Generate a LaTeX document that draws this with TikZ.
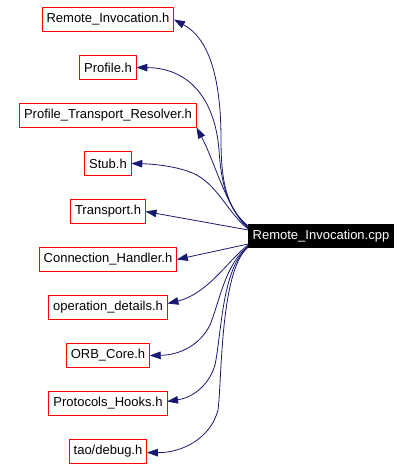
\documentclass[tikz,border=0pt]{standalone}
\usepackage{fontspec}
\setsansfont{Liberation Sans}
\usetikzlibrary{positioning,arrows.meta}

\definecolor{edgeblue}{RGB}{25,25,112}

\begin{document}
\begin{tikzpicture}[
  x=1pt, y=-1pt,
  font=\sffamily\fontsize{13}{15}\selectfont,
  hdr/.style={draw=red, line width=1pt, minimum height=24pt, inner xsep=4.5pt,
              inner ysep=0pt, outer sep=0pt},
  src/.style={fill=black, text=white, minimum height=24pt, inner xsep=4.5pt,
              inner ysep=0pt, outer sep=0pt},
  arr/.style={-{Triangle[length=11pt, width=7.5pt]}, edgeblue, line width=0.8pt},
  node distance=24pt]

\useasboundingbox (0,0) rectangle (411,470);

% ---- included headers, one column ----
\node[hdr] (rih) at (108,19.5) {Remote\_Invocation.h};
\node[hdr, below=of rih] (profile) {Profile.h};
\node[hdr, below=of profile] (ptr) {Profile\_Transport\_Resolver.h};
\node[hdr, below=of ptr] (stub) {Stub.h};
\node[hdr, below=of stub] (transport) {Transport.h};
\node[hdr, below=of transport] (conn) {Connection\_Handler.h};
\node[hdr, below=of conn] (opdet) {operation\_details.h};
\node[hdr, below=of opdet] (orb) {ORB\_Core.h};
\node[hdr, below=of orb] (hooks) {Protocols\_Hooks.h};
\node[hdr, below=of hooks] (debug) {tao/debug.h};

% ---- the source file ----
\node[src] (cpp) at (321,236) {Remote\_Invocation.cpp};

% ---- upward includes ----
\draw[arr] ([yshift=10pt]cpp.west) .. controls (228,210) and (221,185) .. (221,140)
  .. controls (221,75) and (208,38) .. (rih.east);
\draw[arr] ([yshift=9pt]cpp.west) .. controls (226,207) and (221,180) .. (219,150)
  .. controls (215,100) and (190,68) .. (profile.east);
\draw[arr] ([yshift=8pt]cpp.west) .. controls (228,212) and (214,160) .. (ptr.south east);
\draw[arr] ([yshift=7pt]cpp.west) .. controls (230,215) and (220,190) .. (200,177)
  .. controls (185,167) and (155,164) .. (stub.east);
\draw[arr] ([yshift=6pt]cpp.west) -- (transport.east);

% ---- downward includes ----
\draw[arr] ([yshift=-8pt]cpp.west) -- (conn.east);
\draw[arr] ([yshift=-9pt]cpp.west) .. controls (230,258) and (208,294) .. ([yshift=4pt]opdet.east);
\draw[arr] ([yshift=-10pt]cpp.west) .. controls (225,265) and (220,300) .. (210,325)
  .. controls (200,345) and (180,355) .. (orb.east);
\draw[arr] ([yshift=-11pt]cpp.west) .. controls (222,268) and (222,330) .. (215,365)
  .. controls (208,388) and (190,398) .. ([yshift=2pt]hooks.east);
\draw[arr] ([yshift=-11pt]cpp.west) .. controls (220,270) and (222,380) .. (218,410)
  .. controls (210,440) and (180,453) .. ([yshift=-1pt]debug.east);
\end{tikzpicture}
\end{document}
